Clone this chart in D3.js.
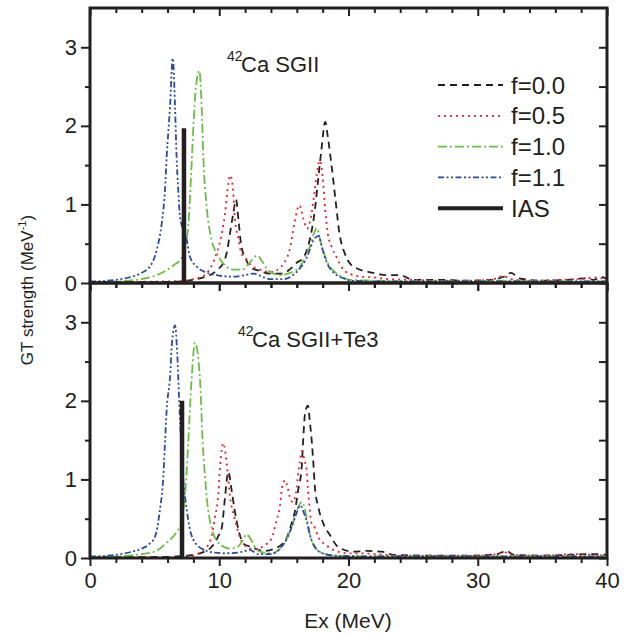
<!DOCTYPE html>
<html>
<head>
<meta charset="utf-8">
<script src="https://cdn.jsdelivr.net/npm/d3@7"></script>
<style>
  body { margin: 0; background: #fff; }
  text { font-family: "Liberation Sans", Arial, sans-serif; fill: #231f20; }
</style>
</head>
<body>
<div id="chart"></div>
<script>
// GT strength curves, [Ex (MeV), strength (MeV^-1)]

// upper panel: 42Ca SGII
const topF00 = [[0,0.01],[2,0.01],[4,0.01],[6,0.015],[7,0.02],[7.5,0.03],[8.5,0.06],[9.5,0.12],[10,0.19],[10.3,0.25],[10.6,0.4],[10.8,0.6],[11.1,0.9],[11.3,1.06],[11.5,0.78],[11.7,0.48],[12.1,0.29],[12.4,0.2],[13,0.16],[13.9,0.12],[14.9,0.12],[15.5,0.18],[16,0.26],[16.5,0.32],[17,0.55],[17.4,0.93],[17.65,1.31],[17.9,1.69],[18.2,2.05],[18.4,1.86],[18.7,1.48],[19,1.05],[19.3,0.63],[19.7,0.38],[20.1,0.25],[20.6,0.19],[21.9,0.13],[23,0.1],[24,0.1],[25,0.04],[27,0.04],[29,0.03],[31,0.04],[32,0.08],[32.6,0.13],[33.2,0.06],[35,0.03],[37,0.04],[38.3,0.06],[39,0.04],[39.5,0.08],[40,0.05]];
const topF05 = [[0,0.01],[2,0.01],[4,0.015],[6,0.02],[7,0.02],[8,0.05],[8.5,0.07],[9,0.12],[9.5,0.25],[9.8,0.38],[10.2,0.63],[10.45,0.89],[10.7,1.27],[10.85,1.37],[11.07,1.18],[11.2,0.84],[11.5,0.55],[11.7,0.38],[12.1,0.3],[12.5,0.22],[13,0.18],[13.5,0.15],[14.2,0.14],[14.6,0.18],[15,0.25],[15.5,0.46],[15.8,0.75],[16.2,0.99],[16.5,0.82],[16.8,0.69],[17.1,0.85],[17.4,1.2],[17.6,1.45],[17.8,1.56],[18,1.35],[18.2,0.93],[18.4,0.63],[18.7,0.46],[19.1,0.32],[19.6,0.17],[20.2,0.11],[21,0.08],[22,0.07],[23,0.05],[25,0.04],[27,0.03],[29,0.03],[31,0.04],[32,0.09],[32.5,0.05],[34,0.03],[36,0.04],[38,0.05],[39,0.07],[40,0.04]];
const topF10 = [[0,0.01],[1,0.015],[2,0.02],[3,0.03],[4,0.05],[5,0.09],[5.9,0.16],[6.5,0.23],[7.1,0.32],[7.6,0.72],[7.8,1.3],[8,2],[8.2,2.5],[8.46,2.7],[8.64,2.24],[8.77,1.6],[9.03,0.97],[9.4,0.55],[9.8,0.38],[10.3,0.25],[11.1,0.17],[11.8,0.17],[12.4,0.27],[12.95,0.35],[13.3,0.28],[13.8,0.16],[14.7,0.1],[15.5,0.13],[16.2,0.2],[16.7,0.35],[17,0.46],[17.3,0.62],[17.55,0.7],[17.8,0.55],[18.3,0.29],[18.8,0.16],[19.1,0.12],[19.6,0.07],[20.1,0.04],[22,0.03],[25,0.02],[28,0.02],[32,0.03],[36,0.02],[40,0.02]];
const topF11 = [[0,0.02],[1,0.025],[2,0.04],[3,0.07],[4,0.13],[4.64,0.21],[5.16,0.42],[5.55,0.76],[5.8,1.18],[5.93,1.6],[6.19,2.24],[6.4,2.86],[6.58,2.24],[6.7,1.6],[6.83,1.18],[6.96,0.85],[7.48,0.55],[7.74,0.33],[8.25,0.21],[8.77,0.15],[9.8,0.1],[11.1,0.08],[12,0.1],[12.7,0.12],[13.3,0.08],[14,0.05],[15,0.05],[15.7,0.1],[16.2,0.18],[16.7,0.3],[17,0.42],[17.3,0.55],[17.7,0.6],[17.95,0.45],[18.3,0.27],[18.8,0.14],[19.1,0.1],[19.6,0.06],[20.1,0.03],[22,0.02],[25,0.02],[30,0.02],[35,0.02],[40,0.02]];
const topIAS = [7.27, 1.97];

// lower panel: 42Ca SGII+Te3
const botF00 = [[0,0.01],[3,0.01],[6,0.015],[7.5,0.03],[8.5,0.06],[9.4,0.14],[9.9,0.27],[10.2,0.39],[10.45,0.78],[10.7,1.1],[10.96,0.86],[11.2,0.6],[11.5,0.35],[11.9,0.18],[12.5,0.14],[13.4,0.09],[14.3,0.12],[15.2,0.25],[15.6,0.44],[15.86,0.6],[16.1,0.86],[16.38,1.16],[16.5,1.52],[16.65,1.86],[16.87,1.94],[17,1.75],[17.15,1.5],[17.3,1.16],[17.4,0.9],[17.66,0.65],[18.05,0.44],[18.57,0.29],[19.2,0.14],[20.4,0.08],[21.4,0.09],[22.6,0.08],[23.5,0.04],[26,0.03],[29,0.03],[31.5,0.05],[32.2,0.09],[32.8,0.04],[35,0.03],[37,0.04],[38.8,0.05],[40,0.04]];
const botF05 = [[0,0.01],[3,0.01],[6,0.01],[7.5,0.02],[8.3,0.05],[8.75,0.1],[9.3,0.22],[9.67,0.52],[9.93,0.82],[10.06,1.16],[10.32,1.46],[10.6,1.16],[10.83,0.78],[11.2,0.5],[11.5,0.31],[11.9,0.17],[12.7,0.11],[13.2,0.13],[13.5,0.16],[14.05,0.25],[14.4,0.46],[14.7,0.67],[14.85,0.89],[15.1,0.99],[15.3,0.89],[15.45,0.78],[15.7,0.71],[15.99,0.9],[16.1,1.07],[16.25,1.24],[16.38,1.36],[16.6,1.24],[16.77,1.1],[16.85,0.9],[16.97,0.69],[17.1,0.46],[17.4,0.38],[17.65,0.27],[18.3,0.16],[19,0.09],[20,0.06],[21,0.06],[22,0.05],[24,0.03],[27,0.03],[30,0.03],[31.5,0.05],[32,0.08],[32.5,0.04],[35,0.03],[37.5,0.05],[39,0.04],[40,0.03]];
const botF10 = [[0,0.01],[1,0.015],[2,0.02],[3,0.03],[4,0.05],[5,0.08],[5.9,0.19],[6.7,0.33],[7,0.42],[7.42,0.95],[7.6,1.46],[7.87,2.3],[8.12,2.74],[8.5,2.3],[8.72,1.46],[8.9,1.03],[9.15,0.6],[9.4,0.39],[9.8,0.22],[10.8,0.12],[11.4,0.14],[11.8,0.22],[12.1,0.3],[12.4,0.25],[12.7,0.16],[13.15,0.08],[14,0.06],[14.7,0.12],[15.3,0.27],[15.7,0.44],[16,0.6],[16.4,0.71],[16.8,0.48],[17,0.31],[17.4,0.14],[18,0.06],[19,0.03],[22,0.02],[26,0.02],[30,0.02],[35,0.02],[40,0.02]];
const botF11 = [[0,0.02],[1,0.025],[2,0.04],[3,0.07],[4,0.12],[4.6,0.18],[5.03,0.27],[5.4,0.6],[5.67,1.03],[5.8,1.46],[5.93,1.88],[6.19,2.3],[6.35,2.75],[6.58,2.96],[6.75,2.6],[6.9,2],[7.2,1.03],[7.5,0.6],[7.7,0.39],[8.2,0.18],[8.9,0.1],[9.5,0.07],[10.5,0.06],[11.5,0.07],[12.4,0.1],[13,0.05],[14,0.05],[14.7,0.12],[15.3,0.27],[15.7,0.44],[16,0.58],[16.25,0.67],[16.6,0.55],[16.8,0.45],[17,0.3],[17.4,0.14],[18,0.06],[19,0.03],[22,0.02],[26,0.02],[30,0.02],[35,0.02],[40,0.02]];
const botIAS = [7.12, 2.0];

// legend / series info
const seriesLabels = ["f=0.0", "f=0.5", "f=1.0", "f=1.1", "IAS"];
const seriesColors = ["#231f20", "#e8202a", "#6cbd45", "#2b4aa0", "#231f20"];
const seriesDash = ["7,5", "2,4", "9,3,2,3", "6,2.5,2,2.5,2,2.5", null];

// ticks
const xMajor = [0, 10, 20, 30, 40];
const xMinor = [2, 4, 6, 8, 12, 14, 16, 18, 22, 24, 26, 28, 32, 34, 36, 38];
const yMajor = [0, 1, 2, 3];
const yMinor = [0.5, 1.5, 2.5];

const width = 631, height = 635;
const ink = "#231f20";

const svg = d3.select("#chart").append("svg")
  .attr("width", width)
  .attr("height", height);

const x = d3.scaleLinear().domain([0, 40]).range([90, 607]);

const panels = [
  { y: d3.scaleLinear().domain([0, 3.5]).range([283, 8]), curves: [topF00, topF05, topF10, topF11], ias: topIAS,
    note: "Ca SGII", noteX: 227, noteY: 72, last: false },
  { y: d3.scaleLinear().domain([0, 3.5]).range([558, 283]), curves: [botF00, botF05, botF10, botF11], ias: botIAS,
    note: "Ca SGII+Te3", noteX: 238, noteY: 347, last: true }
];

function styleAxis(g) {
  g.select(".domain").remove();
  g.selectAll(".tick line").attr("stroke", ink).attr("stroke-width", 2);
  g.selectAll(".tick text").style("font-size", "22px").attr("fill", ink);
}

panels.forEach(p => {
  const y = p.y;
  const top = y.range()[1], bottom = y.range()[0];

  // curves
  p.curves.forEach((data, i) => {
    const line = d3.line()
      .x(d => x(d[0]))
      .y(d => y(d[1]))
      .curve(d3.curveMonotoneX);
    svg.append("path")
      .datum(data)
      .attr("d", line)
      .attr("fill", "none")
      .attr("stroke", seriesColors[i])
      .attr("stroke-width", 1.8)
      .attr("stroke-dasharray", seriesDash[i]);
  });

  // IAS bar
  svg.append("line")
    .attr("x1", x(p.ias[0])).attr("x2", x(p.ias[0]))
    .attr("y1", y(0)).attr("y2", y(p.ias[1]))
    .attr("stroke", ink)
    .attr("stroke-width", 4.5);

  // left axis, outward
  svg.append("g").attr("transform", "translate(90,0)")
    .call(d3.axisLeft(y).tickValues(yMajor).tickSize(9).tickPadding(4).tickFormat(d3.format("d")))
    .call(styleAxis);
  svg.append("g").attr("transform", "translate(90,0)")
    .call(d3.axisLeft(y).tickValues(yMinor).tickSize(5).tickFormat(""))
    .call(styleAxis);

  // right axis, inward
  svg.append("g").attr("transform", "translate(607,0)")
    .call(d3.axisLeft(y).tickValues(yMajor.concat(yMinor)).tickSize(8).tickFormat(""))
    .call(styleAxis);

  // top axis, inward
  svg.append("g").attr("transform", `translate(0,${top})`)
    .call(d3.axisBottom(x).tickValues(xMajor).tickSize(8).tickFormat(""))
    .call(styleAxis);
  svg.append("g").attr("transform", `translate(0,${top})`)
    .call(d3.axisBottom(x).tickValues(xMinor).tickSize(5).tickFormat(""))
    .call(styleAxis);

  // bottom axis, outward
  svg.append("g").attr("transform", `translate(0,${bottom})`)
    .call(d3.axisBottom(x).tickValues(xMajor).tickSize(8).tickPadding(6)
      .tickFormat(p.last ? d3.format("d") : ""))
    .call(styleAxis);
  svg.append("g").attr("transform", `translate(0,${bottom})`)
    .call(d3.axisBottom(x).tickValues(xMinor).tickSize(5).tickFormat(""))
    .call(styleAxis);

  // frame
  svg.append("rect")
    .attr("x", 90).attr("y", top)
    .attr("width", 607 - 90).attr("height", bottom - top)
    .attr("fill", "none")
    .attr("stroke", ink)
    .attr("stroke-width", 3);

  // panel label
  svg.append("text")
    .attr("x", p.noteX).attr("y", p.noteY - 11)
    .style("font-size", "14px")
    .text("42");
  svg.append("text")
    .attr("x", p.noteX + 14).attr("y", p.noteY)
    .style("font-size", "22px")
    .text(p.note);
});

// legend
const legend = svg.append("g");
seriesLabels.forEach((label, i) => {
  const cy = 85 + i * 30.8;
  legend.append("line")
    .attr("x1", 438).attr("x2", 503)
    .attr("y1", cy).attr("y2", cy)
    .attr("stroke", seriesColors[i])
    .attr("stroke-width", i === 4 ? 4 : 1.8)
    .attr("stroke-dasharray", seriesDash[i]);
  legend.append("text")
    .attr("x", 511).attr("y", cy + 8.5)
    .style("font-size", "24px")
    .text(label);
});

// axis titles
svg.append("text")
  .attr("x", 348).attr("y", 628)
  .attr("text-anchor", "middle")
  .style("font-size", "21px")
  .text("Ex (MeV)");

const yTitle = svg.append("text")
  .attr("transform", "translate(33,290) rotate(-90)")
  .attr("text-anchor", "middle")
  .style("font-size", "17px");
yTitle.append("tspan").text("GT strength (MeV");
yTitle.append("tspan").attr("dy", -7).style("font-size", "11px").text("-1");
yTitle.append("tspan").attr("dy", 7).text(")");
</script>
</body>
</html>
